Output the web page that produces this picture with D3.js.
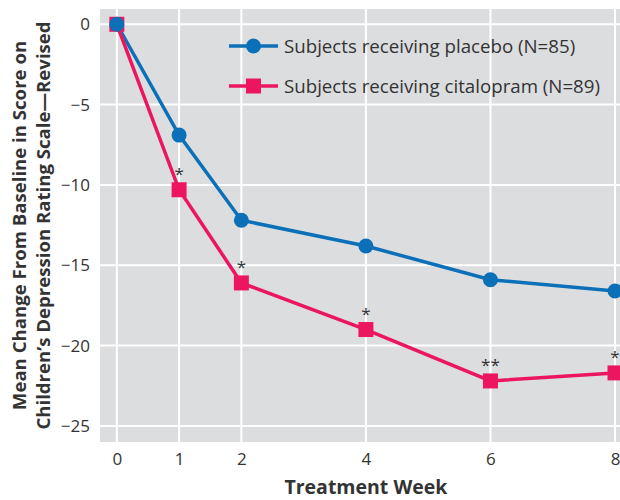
<!doctype html>
<meta charset="utf-8">
<script src="https://d3js.org/d3.v7.min.js"></script>
<style>
body { margin: 0; background: #fff; }
text { font-family: "Open Sans", "Liberation Sans", sans-serif; fill: #333; }
</style>
<body>
<script>

var weeks = [0, 1, 2, 4, 6, 8];
var placebo = [0, -6.9, -12.2, -13.8, -15.9, -16.6];
var citalopram = [0, -10.3, -16.1, -19.0, -22.2, -21.7];
var stars = ["", "*", "*", "*", "**", "*"];
var xTicks = [0, 1, 2, 4, 6, 8];
var yTicks = [0, -5, -10, -15, -20, -25];
var seriesNames = ["Subjects receiving placebo (N=85)", "Subjects receiving citalopram (N=89)"];

var width = 620, height = 500;
var margin = {top: 9, right: 0, bottom: 58, left: 100};

var svg = d3.select("body").append("svg")
    .attr("width", width)
    .attr("height", height);

var x = d3.scaleLinear()
    .domain([-0.27, 8.08])
    .range([margin.left, width - margin.right]);

var y = d3.scaleLinear()
    .domain([-26, 0.95])
    .range([height - margin.bottom, margin.top]);

svg.append("rect")
    .attr("x", margin.left)
    .attr("y", margin.top)
    .attr("width", width - margin.left - margin.right)
    .attr("height", height - margin.top - margin.bottom)
    .style("fill", "#dcdddf");

// grid
svg.append("g").selectAll("line").data(xTicks).enter().append("line")
    .attr("x1", d => x(d)).attr("x2", d => x(d))
    .attr("y1", margin.top).attr("y2", height - margin.bottom)
    .style("stroke", "#fff").style("stroke-width", 2);
svg.append("g").selectAll("line").data(yTicks).enter().append("line")
    .attr("x1", margin.left).attr("x2", width - margin.right)
    .attr("y1", d => y(d)).attr("y2", d => y(d))
    .style("stroke", "#fff").style("stroke-width", 2);

// axes (labels only)
var xAxis = svg.append("g")
    .attr("transform", "translate(0," + (height - margin.bottom) + ")")
    .call(d3.axisBottom(x).tickValues(xTicks).tickSize(0).tickPadding(11));
var yAxis = svg.append("g")
    .attr("transform", "translate(" + margin.left + ",0)")
    .call(d3.axisLeft(y).tickValues(yTicks).tickSize(0).tickPadding(10)
        .tickFormat(d => d < 0 ? "\u2212" + Math.abs(d) : d));
[xAxis, yAxis].forEach(function(a) {
    a.select(".domain").remove();
    a.selectAll("text")
        .style("font-size", "17px")
        .style("font-family", "'Open Sans', sans-serif")
        .style("fill", "#333");
});

var line = d3.line()
    .x((d, i) => x(weeks[i]))
    .y(d => y(d));

var blue = "#0b70b8", pink = "#ec1660";

svg.append("path").attr("d", line(placebo))
    .style("fill", "none").style("stroke", blue).style("stroke-width", 3.5);
svg.append("path").attr("d", line(citalopram))
    .style("fill", "none").style("stroke", pink).style("stroke-width", 3.5);

svg.append("g").selectAll("rect").data(citalopram).enter().append("rect")
    .attr("x", (d, i) => x(weeks[i]) - 7.5)
    .attr("y", d => y(d) - 7.5)
    .attr("width", 15).attr("height", 15)
    .style("fill", pink);
svg.append("g").selectAll("circle").data(placebo).enter().append("circle")
    .attr("cx", (d, i) => x(weeks[i]))
    .attr("cy", d => y(d))
    .attr("r", 7.5)
    .style("fill", blue);

svg.append("g").selectAll("text").data(citalopram).enter().append("text")
    .attr("x", (d, i) => x(weeks[i]))
    .attr("y", d => y(d) - 10)
    .attr("text-anchor", "middle")
    .style("font-size", "17px")
    .text((d, i) => stars[i]);

// legend
var legend = svg.append("g");
[blue, pink].forEach(function(c, i) {
    var ly = 46 + i * 40;
    legend.append("line")
        .attr("x1", 229).attr("x2", 278).attr("y1", ly).attr("y2", ly)
        .style("stroke", c).style("stroke-width", 3.5);
    if (i === 0) {
        legend.append("circle").attr("cx", 253.5).attr("cy", ly).attr("r", 7.5).style("fill", c);
    } else {
        legend.append("rect").attr("x", 246).attr("y", ly - 7.5)
            .attr("width", 15).attr("height", 15).style("fill", c);
    }
    legend.append("text")
        .attr("x", 284).attr("y", ly)
        .attr("dy", "0.35em")
        .style("font-size", "18.7px")
        .text(seriesNames[i]);
});

// axis titles
svg.append("text")
    .attr("x", x(4)).attr("y", 494)
    .attr("text-anchor", "middle")
    .style("font-size", "19.5px").style("font-weight", "bold")
    .text("Treatment Week");

var yt = svg.append("text")
    .attr("transform", "translate(0," + ((margin.top + height - margin.bottom) / 2) + ") rotate(-90)")
    .attr("text-anchor", "middle")
    .style("font-size", "18.6px").style("font-weight", "bold");
yt.append("tspan").attr("x", 0).attr("y", 26).text("Mean Change From Baseline in Score on");
yt.append("tspan").attr("x", 0).attr("y", 50).text("Children\u2019s Depression Rating Scale\u2014Revised");

</script>
